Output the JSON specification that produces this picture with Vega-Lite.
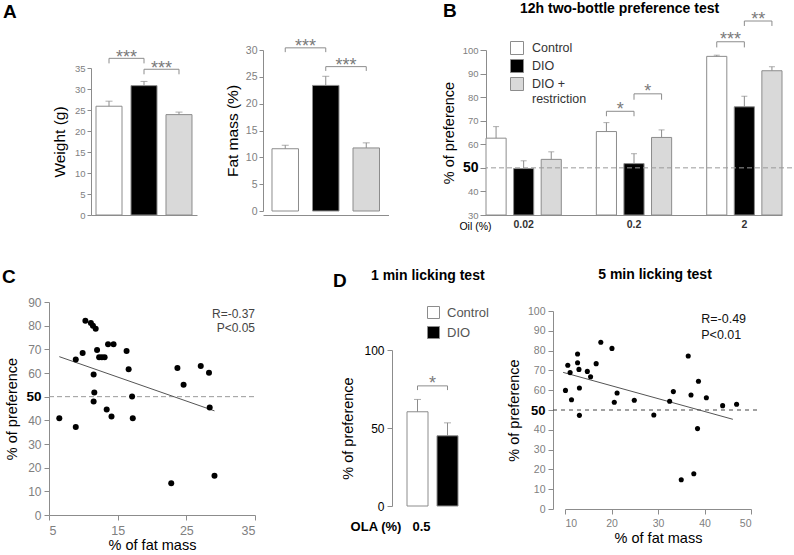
{
  "$schema": "https://vega.github.io/schema/vega-lite/v6.json",
  "background": "white",
  "padding": {"left": 2, "top": 1, "right": 0, "bottom": 0},
  "config": {
    "font": "Liberation Sans",
    "view": {"stroke": null},
    "axis": {"grid": false, "labelOverlap": false, "domainColor": "#8c8c8c", "tickColor": "#8c8c8c", "labelColor": "#808080", "titleColor": "#000000", "titleFontWeight": "normal", "labelFont": "Liberation Sans", "titleFont": "Liberation Sans"},
    "title": {"font": "Liberation Sans", "color": "#000000"},
    "legend": {"labelFont": "Liberation Sans"}
  },
  "datasets": {
    "weight": [
      {"group": "Control", "value": 25.9, "err": 27.1},
      {"group": "DIO", "value": 30.8, "err": 31.8},
      {"group": "DIO + restriction", "value": 23.9, "err": 24.5}
    ],
    "weight_br": [
      {"from": "Control", "to": "DIO", "y": 37.3, "ylo": 36.1, "label": "***"},
      {"from": "DIO", "to": "DIO + restriction", "y": 34.7, "ylo": 33.5, "label": "***"}
    ],
    "fat": [
      {"group": "Control", "value": 11.6, "err": 12.25},
      {"group": "DIO", "value": 23.4, "err": 25.1},
      {"group": "DIO + restriction", "value": 11.75, "err": 12.7}
    ],
    "fat_br": [
      {"from": "Control", "to": "DIO", "y": 30.4, "ylo": 29.6, "label": "***"},
      {"from": "DIO", "to": "DIO + restriction", "y": 26.9, "ylo": 26.1, "label": "***"}
    ],
    "pref": [
      {"slot": "0.02|Control", "oil": "0.02", "group": "Control", "value": 62.6, "err": 67.5},
      {"slot": "0.02|DIO", "oil": "0.02", "group": "DIO", "value": 49.7, "err": 53.0},
      {"slot": "0.02|DIO + restriction", "oil": "0.02", "group": "DIO + restriction", "value": 53.6, "err": 56.8},
      {"slot": "0.2|Control", "oil": "0.2", "group": "Control", "value": 65.4, "err": 69.2},
      {"slot": "0.2|DIO", "oil": "0.2", "group": "DIO", "value": 51.8, "err": 56.0},
      {"slot": "0.2|DIO + restriction", "oil": "0.2", "group": "DIO + restriction", "value": 62.9, "err": 66.1},
      {"slot": "2|Control", "oil": "2", "group": "Control", "value": 97.3, "err": 97.8},
      {"slot": "2|DIO", "oil": "2", "group": "DIO", "value": 75.9, "err": 80.4},
      {"slot": "2|DIO + restriction", "oil": "2", "group": "DIO + restriction", "value": 91.2, "err": 92.9}
    ],
    "pref_br": [
      {"from": "0.2|Control", "to": "0.2|DIO", "y": 74.0, "ylo": 71.9, "label": "*"},
      {"from": "0.2|DIO", "to": "0.2|DIO + restriction", "y": 81.4, "ylo": 78.9, "label": "*"},
      {"from": "2|Control", "to": "2|DIO", "y": 103.5, "ylo": 101.1, "label": "***"},
      {"from": "2|DIO", "to": "2|DIO + restriction", "y": 112.3, "ylo": 110.2, "label": "**"}
    ],
    "c_pts": [
      {"fat": 6.5, "pref": 40.9}, {"fat": 8.9, "pref": 65.7}, {"fat": 8.9, "pref": 37.2},
      {"fat": 9.9, "pref": 68.4}, {"fat": 10.3, "pref": 82.1}, {"fat": 11.1, "pref": 81.1},
      {"fat": 11.4, "pref": 80.0}, {"fat": 11.8, "pref": 78.7}, {"fat": 11.5, "pref": 59.4},
      {"fat": 11.6, "pref": 51.8}, {"fat": 11.5, "pref": 48.0}, {"fat": 12.0, "pref": 69.7},
      {"fat": 12.3, "pref": 66.7}, {"fat": 12.7, "pref": 66.7}, {"fat": 13.1, "pref": 66.7},
      {"fat": 13.4, "pref": 44.6}, {"fat": 13.6, "pref": 72.2}, {"fat": 14.4, "pref": 72.2},
      {"fat": 14.1, "pref": 41.6}, {"fat": 16.3, "pref": 69.3}, {"fat": 16.6, "pref": 61.6},
      {"fat": 17.1, "pref": 50.1}, {"fat": 17.2, "pref": 40.9}, {"fat": 22.8, "pref": 13.4},
      {"fat": 23.7, "pref": 62.1}, {"fat": 24.6, "pref": 55.0}, {"fat": 27.1, "pref": 63.0},
      {"fat": 28.3, "pref": 60.1}, {"fat": 28.4, "pref": 45.4}, {"fat": 29.1, "pref": 16.6}
    ],
    "c_fit": [{"fat": 6.5, "pref": 66.9}, {"fat": 29.1, "pref": 44.0}],
    "lick1": [
      {"group": "Control", "value": 60.4, "err": 68.3},
      {"group": "DIO", "value": 45.0, "err": 53.3}
    ],
    "lick1_br": [{"from": "Control", "to": "DIO", "y": 77.0, "ylo": 74.3, "label": "*"}],
    "d5_pts": [
      {"fat": 10.1, "pref": 59.9}, {"fat": 10.6, "pref": 72.6}, {"fat": 11.1, "pref": 68.9},
      {"fat": 11.4, "pref": 55.2}, {"fat": 12.7, "pref": 78.3}, {"fat": 12.7, "pref": 73.9},
      {"fat": 13.0, "pref": 70.5}, {"fat": 13.1, "pref": 61.1}, {"fat": 13.1, "pref": 47.3},
      {"fat": 14.8, "pref": 69.5}, {"fat": 15.5, "pref": 66.8}, {"fat": 16.7, "pref": 73.4},
      {"fat": 17.7, "pref": 84.2}, {"fat": 20.1, "pref": 81.1}, {"fat": 20.6, "pref": 53.9},
      {"fat": 21.2, "pref": 58.6}, {"fat": 24.9, "pref": 54.9}, {"fat": 29.1, "pref": 47.5},
      {"fat": 32.5, "pref": 54.4}, {"fat": 33.3, "pref": 59.3}, {"fat": 35.0, "pref": 14.8},
      {"fat": 36.5, "pref": 77.3}, {"fat": 37.1, "pref": 57.6}, {"fat": 37.7, "pref": 17.8},
      {"fat": 38.7, "pref": 64.5}, {"fat": 38.5, "pref": 40.6}, {"fat": 40.4, "pref": 56.2},
      {"fat": 43.9, "pref": 52.2}, {"fat": 46.9, "pref": 52.9}
    ],
    "d5_fit": [{"fat": 9.6, "pref": 69.0}, {"fat": 46.1, "pref": 45.3}]
  },
  "spacing": 36,
  "columns": 1,
  "align": "none",
  "resolve": {"scale": {"fill": "independent"}, "legend": {"fill": "independent"}},
  "concat": [
    {
      "title": {"text": "B", "anchor": "start", "frame": "group", "fontSize": 19, "fontWeight": "bold", "baseline": "alphabetic", "offset": -34, "dx": 394},
      "bounds": "flush",
      "spacing": 66,
      "resolve": {"scale": {"fill": "independent"}, "legend": {"fill": "independent"}},
      "hconcat": [
        {
          "width": 148, "height": 165,
          "title": {"text": "A", "anchor": "start", "frame": "group", "fontSize": 19, "fontWeight": "bold", "baseline": "alphabetic", "offset": 12, "dx": -46},
          "layer": [
            {"data": {"name": "weight"}, "mark": {"type": "bar", "stroke": "#8c8c8c", "strokeWidth": 1},
             "encoding": {
               "x": {"field": "group", "type": "nominal", "scale": {"domain": ["Control", "DIO", "DIO + restriction"], "range": [42, 148], "paddingInner": 0.257, "paddingOuter": 0.143}, "axis": {"labels": false, "ticks": false, "title": null}},
               "y": {"field": "value", "type": "quantitative", "scale": {"domain": [0, 35], "range": [165, 18], "nice": false}, "axis": {"offset": -42, "values": [0, 5, 10, 15, 20, 25, 30, 35], "tickCount": 40, "labelOverlap": false, "labelFontSize": 9.5, "tickSize": 4, "labelPadding": 2, "title": "Weight (g)", "titleFontSize": 15.5, "titlePadding": 7}},
               "fill": {"field": "group", "type": "nominal", "scale": {"domain": ["Control", "DIO", "DIO + restriction"], "range": ["#ffffff", "#000000", "#d9d9d9"]}, "legend": null}
             }},
            {"data": {"name": "weight"}, "mark": {"type": "rule", "color": "#8c8c8c"},
             "encoding": {
               "x": {"field": "group", "type": "nominal", "scale": {"domain": ["Control", "DIO", "DIO + restriction"], "range": [42, 148], "paddingInner": 0.257, "paddingOuter": 0.143}},
               "y": {"field": "value", "type": "quantitative", "scale": {"domain": [0, 35], "range": [165, 18], "nice": false}},
               "y2": {"field": "err"}
             }},
            {"data": {"name": "weight"}, "mark": {"type": "tick", "color": "#8c8c8c", "size": 7, "thickness": 1},
             "encoding": {
               "x": {"field": "group", "type": "nominal", "scale": {"domain": ["Control", "DIO", "DIO + restriction"], "range": [42, 148], "paddingInner": 0.257, "paddingOuter": 0.143}},
               "y": {"field": "err", "type": "quantitative", "scale": {"domain": [0, 35], "range": [165, 18], "nice": false}}
             }},
            {"data": {"name": "weight_br"}, "mark": {"type": "rule", "color": "#8c8c8c"},
             "encoding": {
               "x": {"field": "from", "type": "nominal", "scale": {"domain": ["Control", "DIO", "DIO + restriction"], "range": [42, 148], "paddingInner": 0.257, "paddingOuter": 0.143}},
               "x2": {"field": "to"},
               "y": {"field": "y", "type": "quantitative", "scale": {"domain": [0, 35], "range": [165, 18], "nice": false}}
             }},
            {"data": {"name": "weight_br"}, "mark": {"type": "rule", "color": "#8c8c8c"},
             "encoding": {
               "x": {"field": "from", "type": "nominal", "scale": {"domain": ["Control", "DIO", "DIO + restriction"], "range": [42, 148], "paddingInner": 0.257, "paddingOuter": 0.143}},
               "y": {"field": "y", "type": "quantitative", "scale": {"domain": [0, 35], "range": [165, 18], "nice": false}},
               "y2": {"field": "ylo"}
             }},
            {"data": {"name": "weight_br"}, "mark": {"type": "rule", "color": "#8c8c8c"},
             "encoding": {
               "x": {"field": "to", "type": "nominal", "scale": {"domain": ["Control", "DIO", "DIO + restriction"], "range": [42, 148], "paddingInner": 0.257, "paddingOuter": 0.143}},
               "y": {"field": "y", "type": "quantitative", "scale": {"domain": [0, 35], "range": [165, 18], "nice": false}},
               "y2": {"field": "ylo"}
             }},
            {"data": {"name": "weight_br"}, "mark": {"type": "text", "fontSize": 18, "color": "#7a7a7a", "baseline": "alphabetic", "dy": 5},
             "encoding": {
               "x": {"field": "from", "type": "nominal", "bandPosition": 1.173, "scale": {"domain": ["Control", "DIO", "DIO + restriction"], "range": [42, 148], "paddingInner": 0.257, "paddingOuter": 0.143}},
               "y": {"field": "y", "type": "quantitative", "scale": {"domain": [0, 35], "range": [165, 18], "nice": false}},
               "text": {"field": "label"}
             }}
          ]
        },
        {
          "width": 157, "height": 165,
          "layer": [
            {"data": {"name": "fat"}, "mark": {"type": "bar", "stroke": "#8c8c8c", "strokeWidth": 1},
             "encoding": {
               "x": {"field": "group", "type": "nominal", "scale": {"domain": ["Control", "DIO", "DIO + restriction"], "range": [0, 125.5], "paddingInner": 0.346, "paddingOuter": 0.222}, "axis": {"labels": false, "ticks": false, "title": null}},
               "y": {"field": "value", "type": "quantitative", "scale": {"domain": [0, 30], "range": [161, 0], "nice": false}, "axis": {"values": [0, 5, 10, 15, 20, 25, 30], "tickCount": 40, "labelOverlap": false, "labelFontSize": 10.5, "tickSize": 4, "labelPadding": 2, "title": "Fat mass (%)", "titleFontSize": 15.5, "titlePadding": 5}},
               "fill": {"field": "group", "type": "nominal", "scale": {"domain": ["Control", "DIO", "DIO + restriction"], "range": ["#ffffff", "#000000", "#d9d9d9"]}, "legend": null}
             }},
            {"data": {"name": "fat"}, "mark": {"type": "rule", "color": "#8c8c8c"},
             "encoding": {
               "x": {"field": "group", "type": "nominal", "scale": {"domain": ["Control", "DIO", "DIO + restriction"], "range": [0, 125.5], "paddingInner": 0.346, "paddingOuter": 0.222}},
               "y": {"field": "value", "type": "quantitative", "scale": {"domain": [0, 30], "range": [161, 0], "nice": false}},
               "y2": {"field": "err"}
             }},
            {"data": {"name": "fat"}, "mark": {"type": "tick", "color": "#8c8c8c", "size": 7, "thickness": 1},
             "encoding": {
               "x": {"field": "group", "type": "nominal", "scale": {"domain": ["Control", "DIO", "DIO + restriction"], "range": [0, 125.5], "paddingInner": 0.346, "paddingOuter": 0.222}},
               "y": {"field": "err", "type": "quantitative", "scale": {"domain": [0, 30], "range": [161, 0], "nice": false}}
             }},
            {"data": {"name": "fat_br"}, "mark": {"type": "rule", "color": "#8c8c8c"},
             "encoding": {
               "x": {"field": "from", "type": "nominal", "scale": {"domain": ["Control", "DIO", "DIO + restriction"], "range": [0, 125.5], "paddingInner": 0.346, "paddingOuter": 0.222}},
               "x2": {"field": "to"},
               "y": {"field": "y", "type": "quantitative", "scale": {"domain": [0, 30], "range": [161, 0], "nice": false}}
             }},
            {"data": {"name": "fat_br"}, "mark": {"type": "rule", "color": "#8c8c8c"},
             "encoding": {
               "x": {"field": "from", "type": "nominal", "scale": {"domain": ["Control", "DIO", "DIO + restriction"], "range": [0, 125.5], "paddingInner": 0.346, "paddingOuter": 0.222}},
               "y": {"field": "y", "type": "quantitative", "scale": {"domain": [0, 30], "range": [161, 0], "nice": false}},
               "y2": {"field": "ylo"}
             }},
            {"data": {"name": "fat_br"}, "mark": {"type": "rule", "color": "#8c8c8c"},
             "encoding": {
               "x": {"field": "to", "type": "nominal", "scale": {"domain": ["Control", "DIO", "DIO + restriction"], "range": [0, 125.5], "paddingInner": 0.346, "paddingOuter": 0.222}},
               "y": {"field": "y", "type": "quantitative", "scale": {"domain": [0, 30], "range": [161, 0], "nice": false}},
               "y2": {"field": "ylo"}
             }},
            {"data": {"name": "fat_br"}, "mark": {"type": "text", "fontSize": 18, "color": "#7a7a7a", "baseline": "alphabetic", "dy": 4.5},
             "encoding": {
               "x": {"field": "from", "type": "nominal", "bandPosition": 1.264, "scale": {"domain": ["Control", "DIO", "DIO + restriction"], "range": [0, 125.5], "paddingInner": 0.346, "paddingOuter": 0.222}},
               "y": {"field": "y", "type": "quantitative", "scale": {"domain": [0, 30], "range": [161, 0], "nice": false}},
               "text": {"field": "label"}
             }}
          ]
        },
        {
          "width": 306, "height": 165,
          "title": {"text": "12h two-bottle preference test", "anchor": "start", "frame": "group", "fontSize": 14, "fontWeight": "bold", "baseline": "alphabetic", "offset": -16, "dx": 34},
          "layer": [
            {"data": {"name": "pref"}, "mark": {"type": "bar", "stroke": "#8c8c8c", "strokeWidth": 1},
             "encoding": {
               "x": {"field": "slot", "type": "nominal", "scale": {"domain": ["0.02|Control", "0.02|DIO", "0.02|DIO + restriction", "gap1", "0.2|Control", "0.2|DIO", "0.2|DIO + restriction", "gap2", "2|Control", "2|DIO", "2|DIO + restriction"], "range": [0, 296], "paddingInner": 0.27, "paddingOuter": 0},
                     "axis": {"ticks": false, "labelAngle": 0, "labelOverlap": false, "labelExpr": "split(datum.value, '|')[1] == 'DIO' ? split(datum.value, '|')[0] : ''", "labelFontSize": 10.5, "labelFontWeight": "bold", "labelColor": "#333333", "labelPadding": 4, "title": "Oil (%)", "titleFontSize": 10.5, "titleX": -11, "titleY": 11, "titleAlign": "center", "titleBaseline": "middle"}},
               "y": {"field": "value", "type": "quantitative", "scale": {"domain": [30, 100], "nice": false, "zero": false},
                     "axis": {"values": [30, 40, 50, 60, 70, 80, 90, 100], "tickCount": 40, "labelOverlap": false, "tickSize": 6, "labelPadding": 2,
                              "labelFontSize": {"condition": {"test": "datum.value == 50", "value": 14}, "value": 9.5},
                              "labelFontWeight": {"condition": {"test": "datum.value == 50", "value": "bold"}, "value": "normal"},
                              "labelColor": {"condition": {"test": "datum.value == 50", "value": "#000000"}, "value": "#808080"},
                              "title": "% of preference", "titleFontSize": 14.5, "titlePadding": 6}},
               "y2": {"datum": 30},
               "fill": {"field": "group", "type": "nominal", "scale": {"domain": ["Control", "DIO", "DIO + restriction"], "range": ["#ffffff", "#000000", "#d9d9d9"]},
                        "legend": {"orient": "none", "legendX": 24, "legendY": -9, "title": null, "padding": 0, "symbolType": "square", "symbolSize": 169, "symbolStrokeColor": "#8c8c8c", "symbolStrokeWidth": 1, "labelFontSize": 12.5, "labelColor": "#333333", "labelOffset": 8, "rowPadding": 0, "labelLimit": 200, "labelExpr": "datum.label == 'DIO + restriction' ? ['DIO +', 'restriction'] : datum.label"}}
             }},
            {"data": {"name": "pref"}, "mark": {"type": "rule", "color": "#8c8c8c"},
             "encoding": {
               "x": {"field": "slot", "type": "nominal", "scale": {"domain": ["0.02|Control", "0.02|DIO", "0.02|DIO + restriction", "gap1", "0.2|Control", "0.2|DIO", "0.2|DIO + restriction", "gap2", "2|Control", "2|DIO", "2|DIO + restriction"], "range": [0, 296], "paddingInner": 0.27, "paddingOuter": 0}},
               "y": {"field": "value", "type": "quantitative", "scale": {"domain": [30, 100], "nice": false, "zero": false}},
               "y2": {"field": "err"}
             }},
            {"data": {"name": "pref"}, "mark": {"type": "tick", "color": "#8c8c8c", "size": 6, "thickness": 1},
             "encoding": {
               "x": {"field": "slot", "type": "nominal", "scale": {"domain": ["0.02|Control", "0.02|DIO", "0.02|DIO + restriction", "gap1", "0.2|Control", "0.2|DIO", "0.2|DIO + restriction", "gap2", "2|Control", "2|DIO", "2|DIO + restriction"], "range": [0, 296], "paddingInner": 0.27, "paddingOuter": 0}},
               "y": {"field": "err", "type": "quantitative", "scale": {"domain": [30, 100], "nice": false, "zero": false}}
             }},
            {"data": {"values": [{}]}, "mark": {"type": "rule", "color": "#999999", "strokeDash": [5, 3]},
             "encoding": {
               "y": {"datum": 50, "type": "quantitative", "scale": {"domain": [30, 100], "nice": false, "zero": false}}
             }},
            {"data": {"name": "pref_br"}, "mark": {"type": "rule", "color": "#8c8c8c"},
             "encoding": {
               "x": {"field": "from", "type": "nominal", "scale": {"domain": ["0.02|Control", "0.02|DIO", "0.02|DIO + restriction", "gap1", "0.2|Control", "0.2|DIO", "0.2|DIO + restriction", "gap2", "2|Control", "2|DIO", "2|DIO + restriction"], "range": [0, 296], "paddingInner": 0.27, "paddingOuter": 0}},
               "x2": {"field": "to"},
               "y": {"field": "y", "type": "quantitative", "scale": {"domain": [30, 100], "nice": false, "zero": false}}
             }},
            {"data": {"name": "pref_br"}, "mark": {"type": "rule", "color": "#8c8c8c"},
             "encoding": {
               "x": {"field": "from", "type": "nominal", "scale": {"domain": ["0.02|Control", "0.02|DIO", "0.02|DIO + restriction", "gap1", "0.2|Control", "0.2|DIO", "0.2|DIO + restriction", "gap2", "2|Control", "2|DIO", "2|DIO + restriction"], "range": [0, 296], "paddingInner": 0.27, "paddingOuter": 0}},
               "y": {"field": "y", "type": "quantitative", "scale": {"domain": [30, 100], "nice": false, "zero": false}},
               "y2": {"field": "ylo"}
             }},
            {"data": {"name": "pref_br"}, "mark": {"type": "rule", "color": "#8c8c8c"},
             "encoding": {
               "x": {"field": "to", "type": "nominal", "scale": {"domain": ["0.02|Control", "0.02|DIO", "0.02|DIO + restriction", "gap1", "0.2|Control", "0.2|DIO", "0.2|DIO + restriction", "gap2", "2|Control", "2|DIO", "2|DIO + restriction"], "range": [0, 296], "paddingInner": 0.27, "paddingOuter": 0}},
               "y": {"field": "y", "type": "quantitative", "scale": {"domain": [30, 100], "nice": false, "zero": false}},
               "y2": {"field": "ylo"}
             }},
            {"data": {"name": "pref_br"}, "mark": {"type": "text", "fontSize": 18, "color": "#7a7a7a", "baseline": "alphabetic", "dy": 3.5},
             "encoding": {
               "x": {"field": "from", "type": "nominal", "bandPosition": 1.185, "scale": {"domain": ["0.02|Control", "0.02|DIO", "0.02|DIO + restriction", "gap1", "0.2|Control", "0.2|DIO", "0.2|DIO + restriction", "gap2", "2|Control", "2|DIO", "2|DIO + restriction"], "range": [0, 296], "paddingInner": 0.27, "paddingOuter": 0}},
               "y": {"field": "y", "type": "quantitative", "scale": {"domain": [30, 100], "nice": false, "zero": false}},
               "text": {"field": "label"}
             }}
          ]
        }
      ]
    },
    {
      "title": {"text": "D", "anchor": "start", "frame": "group", "fontSize": 19, "fontWeight": "bold", "baseline": "alphabetic", "offset": -38, "dx": 284},
      "bounds": "flush",
      "spacing": 81,
      "resolve": {"scale": {"fill": "independent"}, "legend": {"fill": "independent"}},
      "hconcat": [
        {
          "width": 262, "height": 213,
          "title": {"text": "C", "anchor": "start", "frame": "group", "fontSize": 19, "fontWeight": "bold", "baseline": "alphabetic", "offset": -6, "dx": -47},
          "layer": [
            {"data": {"values": [{}]}, "mark": {"type": "rule", "color": "#999999", "strokeDash": [5, 3]},
             "encoding": {
               "x": {"datum": 5, "type": "quantitative", "scale": {"domain": [5, 35], "range": [0, 206], "nice": false, "zero": false}},
               "x2": {"datum": 35},
               "y": {"datum": 50, "type": "quantitative", "scale": {"domain": [0, 90], "nice": false}}
             }},
            {"data": {"name": "c_fit"}, "mark": {"type": "line", "color": "#555555", "strokeWidth": 1},
             "encoding": {
               "x": {"field": "fat", "type": "quantitative", "scale": {"domain": [5, 35], "range": [0, 206], "nice": false, "zero": false}},
               "y": {"field": "pref", "type": "quantitative", "scale": {"domain": [0, 90], "nice": false}}
             }},
            {"data": {"name": "c_pts"}, "mark": {"type": "point", "shape": "circle", "filled": true, "color": "#000000", "opacity": 1, "size": 36},
             "encoding": {
               "x": {"field": "fat", "type": "quantitative", "scale": {"domain": [5, 35], "range": [0, 206], "nice": false, "zero": false},
                     "axis": {"values": [5, 15, 25, 35], "tickCount": 40, "labelOverlap": false, "labelFontSize": 12.5, "tickSize": 5, "labelPadding": 4, "title": "% of fat mass", "titleFontSize": 14.5, "titlePadding": 2}},
               "y": {"field": "pref", "type": "quantitative", "scale": {"domain": [0, 90], "nice": false},
                     "axis": {"values": [0, 10, 20, 30, 40, 50, 60, 70, 80, 90], "tickCount": 40, "labelOverlap": false, "tickSize": 5, "labelPadding": 3,
                              "labelFontSize": {"condition": {"test": "datum.value == 50", "value": 13.5}, "value": 12},
                              "labelFontWeight": {"condition": {"test": "datum.value == 50", "value": "bold"}, "value": "normal"},
                              "labelColor": {"condition": {"test": "datum.value == 50", "value": "#000000"}, "value": "#808080"},
                              "title": "% of preference", "titleFontSize": 14.5, "titlePadding": 6}}
             }},
            {"data": {"values": [{}]}, "mark": {"type": "text", "text": "R=-0.37", "align": "right", "baseline": "middle", "fontSize": 12, "color": "#444444"},
             "encoding": {
               "x": {"datum": 35, "type": "quantitative", "scale": {"domain": [5, 35], "range": [0, 206], "nice": false, "zero": false}},
               "y": {"datum": 84.9, "type": "quantitative", "scale": {"domain": [0, 90], "nice": false}}
             }},
            {"data": {"values": [{}]}, "mark": {"type": "text", "text": "P<0.05", "align": "right", "baseline": "middle", "fontSize": 12, "color": "#444444"},
             "encoding": {
               "x": {"datum": 35, "type": "quantitative", "scale": {"domain": [5, 35], "range": [0, 206], "nice": false, "zero": false}},
               "y": {"datum": 79.0, "type": "quantitative", "scale": {"domain": [0, 90], "nice": false}}
             }}
          ]
        },
        {
          "width": 80, "height": 213,
          "title": {"text": "1 min licking test", "anchor": "start", "frame": "group", "fontSize": 14, "fontWeight": "bold", "baseline": "alphabetic", "offset": 8, "dx": -21},
          "layer": [
            {"data": {"name": "lick1"}, "mark": {"type": "bar", "stroke": "#8c8c8c", "strokeWidth": 1},
             "encoding": {
               "x": {"field": "group", "type": "nominal", "scale": {"domain": ["Control", "DIO"], "range": [15, 66], "paddingInner": 0.3, "paddingOuter": 0},
                     "axis": {"domain": false, "ticks": false, "labelAngle": 0, "labelOverlap": false, "labelExpr": "datum.value == 'Control' ? '0.5' : ''", "labelAlign": "center", "labelOffset": 4, "labelPadding": 5, "labelFontSize": 13, "labelFontWeight": "bold", "labelColor": "#000000", "title": "OLA (%)", "titleFontSize": 13, "titleFontWeight": "bold", "titleX": -16.5, "titleY": 11, "titleAlign": "center", "titleBaseline": "middle"}},
               "y": {"field": "value", "type": "quantitative", "scale": {"domain": [0, 100], "range": [204, 48], "nice": false},
                     "axis": {"values": [0, 50, 100], "tickCount": 40, "labelOverlap": false, "tickSize": 5, "labelPadding": 3, "labelFontSize": 12, "labelColor": "#000000", "title": "% of  preference", "titleFontSize": 14.5, "titlePadding": 8}},
               "fill": {"field": "group", "type": "nominal", "scale": {"domain": ["Control", "DIO"], "range": ["#ffffff", "#000000"]},
                        "legend": {"orient": "none", "legendX": 35, "legendY": 4, "title": null, "padding": 0, "symbolType": "square", "symbolSize": 144, "symbolStrokeColor": "#8c8c8c", "symbolStrokeWidth": 1, "labelFontSize": 13, "labelColor": "#555555", "labelOffset": 7, "rowPadding": 3}}
             }},
            {"data": {"name": "lick1"}, "mark": {"type": "rule", "color": "#8c8c8c"},
             "encoding": {
               "x": {"field": "group", "type": "nominal", "scale": {"domain": ["Control", "DIO"], "range": [15, 66], "paddingInner": 0.3, "paddingOuter": 0}},
               "y": {"field": "value", "type": "quantitative", "scale": {"domain": [0, 100], "range": [204, 48], "nice": false}},
               "y2": {"field": "err"}
             }},
            {"data": {"name": "lick1"}, "mark": {"type": "tick", "color": "#8c8c8c", "size": 7, "thickness": 1},
             "encoding": {
               "x": {"field": "group", "type": "nominal", "scale": {"domain": ["Control", "DIO"], "range": [15, 66], "paddingInner": 0.3, "paddingOuter": 0}},
               "y": {"field": "err", "type": "quantitative", "scale": {"domain": [0, 100], "range": [204, 48], "nice": false}}
             }},
            {"data": {"name": "lick1_br"}, "mark": {"type": "rule", "color": "#8c8c8c"},
             "encoding": {
               "x": {"field": "from", "type": "nominal", "scale": {"domain": ["Control", "DIO"], "range": [15, 66], "paddingInner": 0.3, "paddingOuter": 0}},
               "x2": {"field": "to"},
               "y": {"field": "y", "type": "quantitative", "scale": {"domain": [0, 100], "range": [204, 48], "nice": false}}
             }},
            {"data": {"name": "lick1_br"}, "mark": {"type": "rule", "color": "#8c8c8c"},
             "encoding": {
               "x": {"field": "from", "type": "nominal", "scale": {"domain": ["Control", "DIO"], "range": [15, 66], "paddingInner": 0.3, "paddingOuter": 0}},
               "y": {"field": "y", "type": "quantitative", "scale": {"domain": [0, 100], "range": [204, 48], "nice": false}},
               "y2": {"field": "ylo"}
             }},
            {"data": {"name": "lick1_br"}, "mark": {"type": "rule", "color": "#8c8c8c"},
             "encoding": {
               "x": {"field": "to", "type": "nominal", "scale": {"domain": ["Control", "DIO"], "range": [15, 66], "paddingInner": 0.3, "paddingOuter": 0}},
               "y": {"field": "y", "type": "quantitative", "scale": {"domain": [0, 100], "range": [204, 48], "nice": false}},
               "y2": {"field": "ylo"}
             }},
            {"data": {"name": "lick1_br"}, "mark": {"type": "text", "fontSize": 18, "color": "#7a7a7a", "baseline": "alphabetic", "dy": 3},
             "encoding": {
               "x": {"field": "from", "type": "nominal", "bandPosition": 1.214, "scale": {"domain": ["Control", "DIO"], "range": [15, 66], "paddingInner": 0.3, "paddingOuter": 0}},
               "y": {"field": "y", "type": "quantitative", "scale": {"domain": [0, 100], "range": [204, 48], "nice": false}},
               "text": {"field": "label"}
             }}
          ]
        },
        {
          "width": 204, "height": 207,
          "title": {"text": "5 min licking test", "anchor": "middle", "frame": "group", "fontSize": 14, "fontWeight": "bold", "baseline": "alphabetic", "offset": 9},
          "layer": [
            {"data": {"values": [{}]}, "mark": {"type": "rule", "color": "#444444", "strokeDash": [4, 4]},
             "encoding": {
               "y": {"datum": 50, "type": "quantitative", "scale": {"domain": [0, 100], "range": [207, 9], "nice": false}}
             }},
            {"data": {"name": "d5_fit"}, "mark": {"type": "line", "color": "#555555", "strokeWidth": 1},
             "encoding": {
               "x": {"field": "fat", "type": "quantitative", "scale": {"domain": [10, 50], "range": [12, 198], "nice": false, "zero": false}},
               "y": {"field": "pref", "type": "quantitative", "scale": {"domain": [0, 100], "range": [207, 9], "nice": false}}
             }},
            {"data": {"name": "d5_pts"}, "mark": {"type": "point", "shape": "circle", "filled": true, "color": "#000000", "opacity": 1, "size": 26},
             "encoding": {
               "x": {"field": "fat", "type": "quantitative", "scale": {"domain": [10, 50], "range": [12, 198], "nice": false, "zero": false},
                     "axis": {"values": [10, 20, 30, 40, 50], "tickCount": 40, "labelOverlap": false, "labelFontSize": 10.5, "tickSize": 5, "labelPadding": 4, "title": "% of fat mass", "titleFontSize": 14.5, "titlePadding": 3}},
               "y": {"field": "pref", "type": "quantitative", "scale": {"domain": [0, 100], "range": [207, 9], "nice": false},
                     "axis": {"values": [0, 10, 20, 30, 40, 50, 60, 70, 80, 90, 100], "tickCount": 40, "labelOverlap": false, "tickSize": 5, "labelPadding": 3,
                              "labelFontSize": {"condition": {"test": "datum.value == 50", "value": 13}, "value": 10.5},
                              "labelFontWeight": {"condition": {"test": "datum.value == 50", "value": "bold"}, "value": "normal"},
                              "labelColor": {"condition": {"test": "datum.value == 50", "value": "#000000"}, "value": "#808080"},
                              "title": "% of preference", "titleFontSize": 14.5, "titlePadding": 6}}
             }},
            {"data": {"values": [{}]}, "mark": {"type": "text", "text": "R=-0.49", "align": "left", "baseline": "middle", "fontSize": 12.5, "color": "#111111"},
             "encoding": {
               "x": {"datum": 39.3, "type": "quantitative", "scale": {"domain": [10, 50], "range": [12, 198], "nice": false, "zero": false}},
               "y": {"datum": 95.8, "type": "quantitative", "scale": {"domain": [0, 100], "range": [207, 9], "nice": false}}
             }},
            {"data": {"values": [{}]}, "mark": {"type": "text", "text": "P<0.01", "align": "left", "baseline": "middle", "fontSize": 12.5, "color": "#111111"},
             "encoding": {
               "x": {"datum": 39.3, "type": "quantitative", "scale": {"domain": [10, 50], "range": [12, 198], "nice": false, "zero": false}},
               "y": {"datum": 87.7, "type": "quantitative", "scale": {"domain": [0, 100], "range": [207, 9], "nice": false}}
             }}
          ]
        }
      ]
    }
  ]
}
